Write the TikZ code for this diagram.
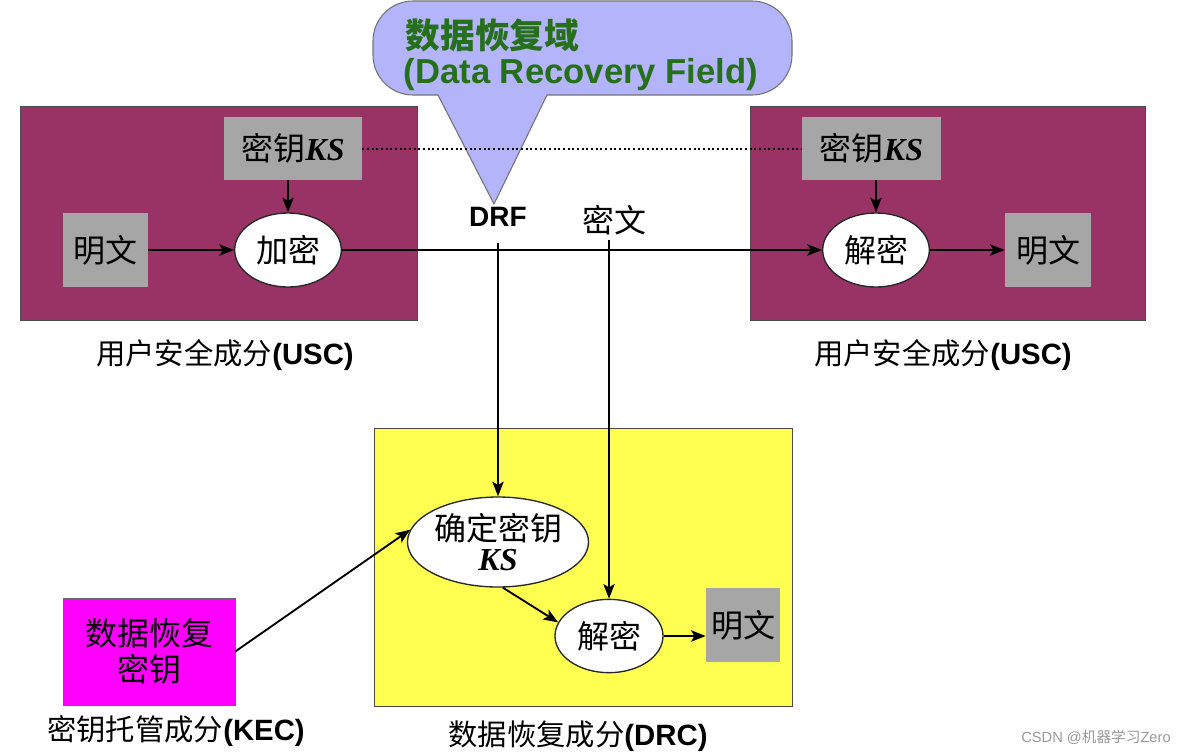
\documentclass[tikz,border=0pt]{standalone}
\usepackage{fontspec}
\setmainfont{Liberation Serif}
\setsansfont{Liberation Sans}
\newfontfamily\cjk{Noto Sans CJK SC}
\usetikzlibrary{arrows.meta,shapes.geometric}
\definecolor{uscred}{RGB}{153,51,102}
\definecolor{drcyellow}{RGB}{255,255,82}
\definecolor{keygray}{RGB}{166,166,166}
\definecolor{calloutblue}{RGB}{180,180,250}
\definecolor{fieldgreen}{RGB}{38,112,28}
\definecolor{kecpink}{RGB}{255,0,255}

\begin{document}
\begin{tikzpicture}[x=0.75pt,y=0.75pt,yscale=-1,
    nodefont/.style={font=\fontsize{24}{27}\selectfont},
    labelfont/.style={font=\fontsize{22}{26}\selectfont},
    graybox/.style={nodefont,fill=keygray,inner sep=0pt},
    oval/.style={nodefont,ellipse,draw=black!85,fill=white,line width=1pt,inner sep=0pt},
    arr/.style={-{Stealth[length=11pt,width=8.5pt,inset=2.5pt]},line width=1.4pt},
  ]
        \useasboundingbox (0,0) rectangle (1184,754);

        %Shape: Rectangle [USC left]
        \draw [fill=uscred,draw=black!70] (20,106) rectangle (417,320);
        %Shape: Rectangle [USC right]
        \draw [fill=uscred,draw=black!70] (750,106) rectangle (1145,320);
        %Shape: Rectangle [DRC]
        \draw [fill=drcyellow,draw=black!70] (374,428) rectangle (792,706);

        %Shape: Callout [DRF]
        \draw [fill=calloutblue,draw=black!55,line width=0.8pt] (438,95) -- (494,204) -- (547,95) [rounded corners=30] -- (792,95) -- (792,1) -- (373,1) -- (373,95) [sharp corners] -- cycle;
        \node (fieldcn) [anchor=west,text=fieldgreen,font=\cjk\bfseries\fontsize{26}{30}\selectfont] at (401,35) {数据恢复域};
        \node (fielden) [anchor=west,text=fieldgreen,font=\sffamily\bfseries\fontsize{26}{30}\selectfont] at (399,75) {(Data Recovery Field)};

        % boxes and ovals, left USC
        \node (keyL) [graybox,minimum width=103.5pt,minimum height=47pt] at (293,148.5) {{\cjk 密钥}\textbf{\textit{KS}}};
        \node (plainL) [graybox,minimum width=64pt,minimum height=55.5pt] at (105.5,250) {\cjk 明文};
        \node (encL) [oval,minimum width=80pt,minimum height=55.5pt] at (288,250) {\cjk 加密};

        % boxes and ovals, right USC
        \node (keyR) [graybox,minimum width=104pt,minimum height=47pt] at (871.5,148.5) {{\cjk 密钥}\textbf{\textit{KS}}};
        \node (decR) [oval,minimum width=80pt,minimum height=55.5pt] at (876,250) {\cjk 解密};
        \node (plainR) [graybox,minimum width=64.5pt,minimum height=55.5pt] at (1048,250) {\cjk 明文};

        % DRC
        \node (drcKey) [oval,minimum width=122pt,minimum height=67.5pt,align=center] at (498,542) {{\cjk 确定密钥}\\[-4pt]\textbf{\textit{KS}}};
        \node (drcDec) [oval,minimum width=81pt,minimum height=55pt] at (609,636) {\cjk 解密};
        \node (drcPlain) [graybox,minimum width=55.5pt,minimum height=55.5pt] at (743,625) {\cjk 明文};

        % KEC
        \node (kecBox) [nodefont,fill=kecpink,draw=black!60,minimum width=129pt,minimum height=80pt,align=center,inner sep=0pt] at (149,651.5) {\cjk 数据恢复\\\cjk 密钥};

        % Text Node
        \node (drf) [font=\sffamily\bfseries\fontsize{21}{24}\selectfont] at (498,217) {DRF};
        \node (cipher) [nodefont] at (614,220) {\cjk 密文};
        \node (uscL) [labelfont] at (225,355) {{\cjk 用户安全成分}\textsf{\bfseries (USC)}};
        \node (uscR) [labelfont] at (943,355) {{\cjk 用户安全成分}\textsf{\bfseries (USC)}};
        \node (drcLabel) [labelfont] at (578,736) {{\cjk 数据恢复成分}\textsf{\bfseries (DRC)}};
        \node (kecLabel) [labelfont] at (176,731) {{\cjk 密钥托管成分}\textsf{\bfseries (KEC)}};
        \node (mark) [text=black!40,font=\sffamily\fontsize{11}{13}\selectfont] at (1096,737) {CSDN @{\cjk 机器学习}Zero};

        % connectors
        \draw [dotted,line width=1.5pt] (keyL.east) -- (keyR.west);
        \draw [arr] (plainL.east) -- (encL.west);
        \draw [arr] (encL.north |- keyL.south) -- (encL.north);
        \draw [arr] (encL.east) -- (decR.west);
        \draw [arr] (decR.north |- keyR.south) -- (decR.north);
        \draw [arr] (decR.east) -- (plainR.west);
        \draw [arr] (drf.south) ++(0,12) -- (drcKey.north);
        \draw [arr] (drcDec.north |- cipher.south) -- (drcDec.north);
        \draw [arr] (drcKey.-84) -- (drcDec.165);
        \draw [arr] (drcDec.east) -- (drcDec.east -| drcPlain.west);
        \draw [arr] (kecBox.east) -- (drcKey.172);

\end{tikzpicture}
\end{document}
